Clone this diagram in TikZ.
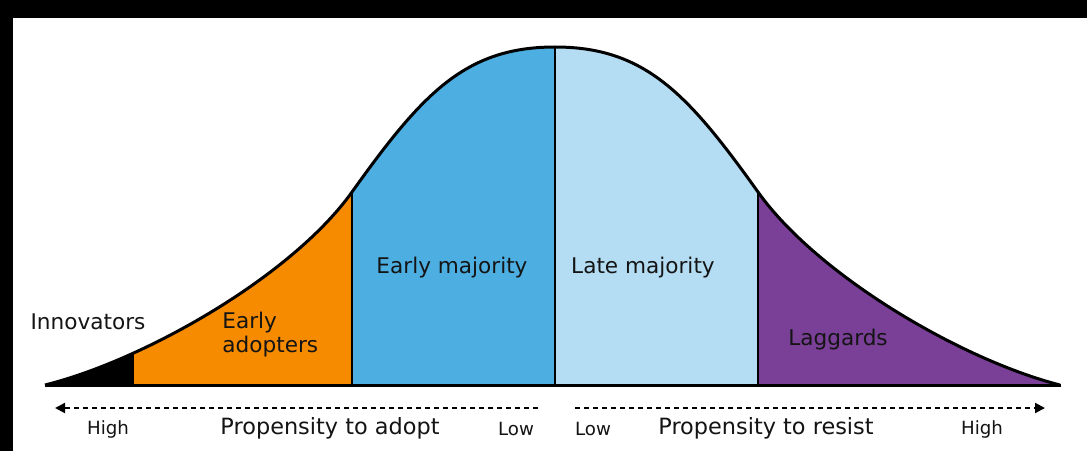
\documentclass[tikz,border=0pt]{standalone}
\usepackage{fontspec}
\setmainfont{DejaVu Sans}
\usetikzlibrary{arrows.meta}
\definecolor{adoptorange}{HTML}{F78B00}
\definecolor{earlyblue}{HTML}{4DAFE1}
\definecolor{lateblue}{HTML}{B4DDF3}
\definecolor{lagpurple}{HTML}{7A3F97}
\definecolor{inktext}{HTML}{141414}
\tikzset{
x=0.5pt, y=0.5pt, % one unit is one pixel of the original chart
curve/.style={line width=1.5pt, line join=round}, % outline of the bell and the base line
divider/.style={line width=1pt}, % vertical lines between the groups
segtext/.style={font=\fontsize{10.8}{12}\selectfont, text=inktext, inner sep=0pt}, % names of the groups
axistext/.style={font=\fontsize{11.2}{13}\selectfont, text=inktext, inner sep=0pt}, % Propensity to ...
scaletext/.style={font=\fontsize{9.1}{10}\selectfont, text=inktext, inner sep=0pt}, % High / Low
propensity/.style={line width=1pt, dash pattern=on 2.5pt off 2pt, -{Triangle[length=5pt, width=5pt]}}, % dashed arrows under the chart
}
\newcommand{\bellcurve}{(45,66) .. controls (145,91) and (292,175) .. (352,259)
    .. controls (422,357) and (465,404) .. (555,404)
    .. controls (645,404) and (688,357) .. (758,259)
    .. controls (818,175) and (962,91) .. (1060,66)}

\begin{document}
\begin{tikzpicture}
    \fill (0,0) rectangle (1087,451);
    \fill[white] (13,0) rectangle (1087,433);

    \begin{scope}
        \clip \bellcurve -- cycle;
        \fill (45,66) rectangle (133,420);
        \fill[adoptorange] (133,66) rectangle (352,420);
        \fill[earlyblue] (352,66) rectangle (555,420);
        \fill[lateblue] (555,66) rectangle (758,420);
        \fill[lagpurple] (758,66) rectangle (1060,420);
        \foreach \x in {133,352,555,758}
            \draw[divider] (\x,66) -- (\x,420);
    \end{scope}
    \draw[curve] \bellcurve;
    \draw[curve] (45,66) -- (1061,66);

    \node[segtext] (innov) at (88,129) {Innovators};
    \node[segtext, align=left, anchor=west] (early) at (222,116) {Early\\adopters};
    \node[segtext] (earlymaj) at (452,183) {Early majority};
    \node[segtext] (latemaj) at (643,183) {Late majority};
    \node[segtext] (lagg) at (838,111) {Laggards};

    \coordinate (adoptstart) at (538,43);
    \coordinate (adoptend) at (55,43);
    \coordinate (resiststart) at (575,43);
    \coordinate (resistend) at (1045,43);
    \draw[propensity] (adoptstart) -- (adoptend);
    \draw[propensity] (resiststart) -- (resistend);

    \node[scaletext] (highadopt) at (108,22) {High};
    \node[axistext] (adopt) at (330,23) {Propensity to adopt};
    \node[scaletext] (lowadopt) at (516,22) {Low};
    \node[scaletext] (lowresist) at (593,22) {Low};
    \node[axistext] (resist) at (766,23) {Propensity to resist};
    \node[scaletext] (highresist) at (982,22) {High};
\end{tikzpicture}
\end{document}
